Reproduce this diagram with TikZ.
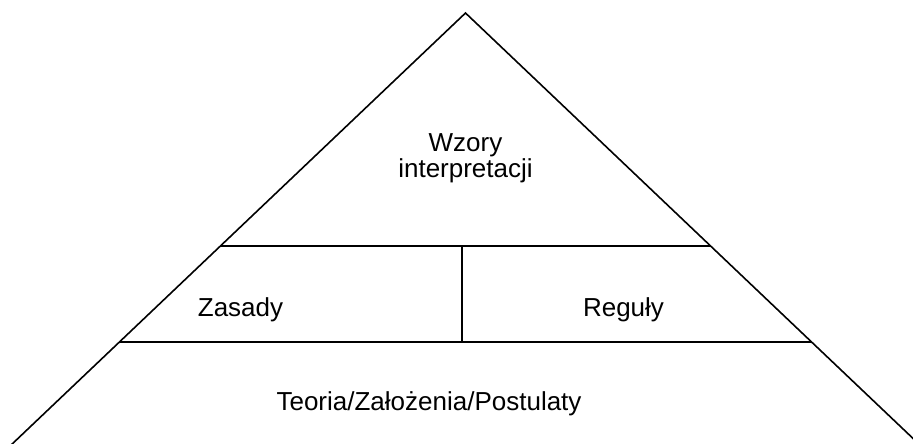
\documentclass[tikz,border=0pt]{standalone}
\usepackage{fontspec}
\setmainfont{Liberation Sans}
\begin{document}
\begin{tikzpicture}[x=1pt,y=-1pt,
  edge/.style={line width=1.6pt, line cap=butt},
  lbl/.style={font=\fontsize{26}{30}\selectfont, inner sep=0pt, anchor=base}]
\useasboundingbox (0,0) rectangle (913,444);
\clip (0,0) rectangle (913,444);

% pyramid outline (sides run off the bottom edge)
\coordinate (apex) at (465.5,13);
\coordinate (bl) at (-4.7,460);
\coordinate (br) at (935.7,460);
\draw[edge, line join=miter] (bl) -- (apex) -- (br);

% tier dividers
\coordinate (t1l) at (220.4,246);
\coordinate (t1r) at (710.6,246);
\coordinate (t2l) at (119.4,342);
\coordinate (t2r) at (811.6,342);
\coordinate (vtop) at (462,246);
\coordinate (vbot) at (462,342);
\draw[edge] (t1l) -- (t1r);
\draw[edge] (t2l) -- (t2r);
\draw[edge] (vtop) -- (vbot);

% labels
\node[lbl] (wzory) at (465.5,151) {Wzory};
\node[lbl] (interp) at (465.5,177) {interpretacji};
\node[lbl] (zasady) at (240.5,316) {Zasady};
\node[lbl] (reguly) at (623.5,316) {Reguły};
\node[lbl] (teoria) at (429,410) {Teoria/Założenia/Postulaty};
\end{tikzpicture}
\end{document}
